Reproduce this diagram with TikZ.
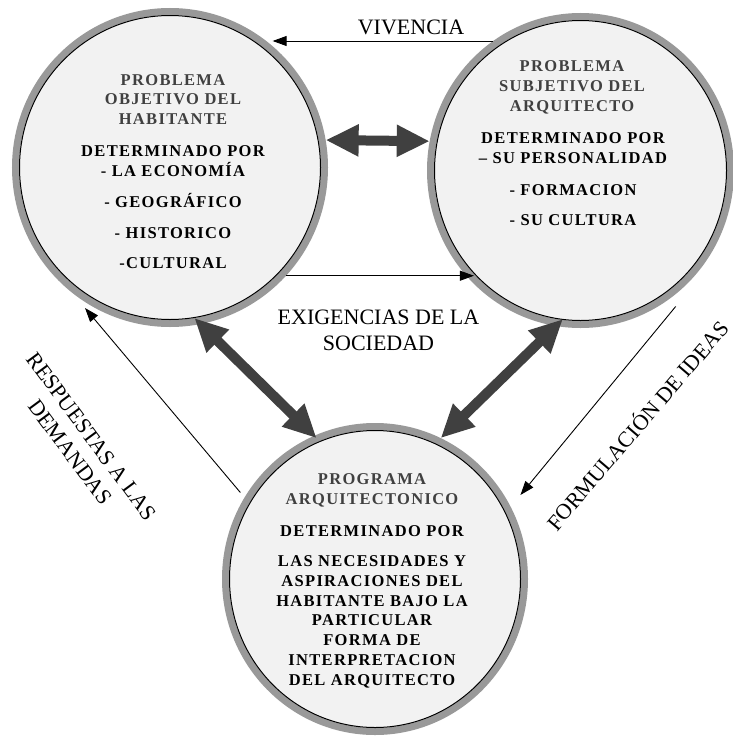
\documentclass[tikz,border=0pt]{standalone}
\usepackage{fontspec}
\setmainfont{Liberation Serif}
\newfontfamily\bubblefont[LetterSpace=8]{Liberation Serif Bold}
\usepackage{tikz}
\usetikzlibrary{arrows.meta,calc,shapes.geometric}

\begin{document}
\begin{tikzpicture}[
    x=1pt, y=1pt,
    % Grey-rimmed bubbles and their texts
    bubble/.style={ellipse, draw=black!40, line width=7pt, fill=gray!10, inner sep=0pt},
    titletext/.style={align=center, text=black!75, font=\bubblefont\fontsize{16.5}{19.8}\selectfont},
    bodytext/.style={align=center, text=black, font=\bubblefont\fontsize{16.5}{19.8}\selectfont},
    lbl/.style={align=center, inner sep=0pt, font=\fontsize{22}{26.5}\selectfont},
    bigarrow/.style={{Triangle[length=33pt,width=30pt]}-{Triangle[length=33pt,width=30pt]}, line width=10pt, draw=black!75},
    thinarrow/.style={-{Triangle[length=14pt,width=10pt]}, line width=0.9pt}
]
    \useasboundingbox (0,0) rectangle (733,-736);
    \clip (0,0) rectangle (733,-736);
    \fill[white] (0,0) rectangle (733,-736);

    % --- Bubbles ---
    \node[bubble, minimum width=309pt, minimum height=312pt] (A) at (170,-167.5) {};
    \node[bubble, minimum width=300pt, minimum height=308pt] (B) at (580.5,-170.5) {};
    \node[bubble, minimum width=299pt, minimum height=305pt] (C) at (375,-579) {};
    \foreach \n/\rx/\ry in {A/150.5/152, B/146/150, C/145.5/148.5}
        \draw[line width=1pt] (\n.center) ellipse[x radius=\rx, y radius=\ry];

    % --- Texts in the bubbles ---
    \node[titletext] (Atitle) at (173,-99.5) {PROBLEMA\\OBJETIVO DEL\\HABITANTE};
    \node[bodytext] (Abody) at (173,-207.5)
        {DETERMINADO POR\\- LA ECONOMÍA\\[11pt]- GEOGRÁFICO\\[11pt]- HISTORICO\\[11pt]-CULTURAL};
    \node[titletext] (Btitle) at (572,-87.5) {PROBLEMA\\SUBJETIVO DEL\\ARQUITECTO};
    \node[bodytext] (Bbody) at (573,-179)
        {DETERMINADO POR\\– SU PERSONALIDAD\\[12pt]- FORMACION\\[10.5pt]- SU CULTURA};
    \node[titletext] (Ctitle) at (372,-490) {PROGRAMA\\ARQUITECTONICO};
    \node[bodytext] (Cbody) at (372,-606.9)
        {DETERMINADO POR\\[10pt]LAS NECESIDADES Y\\ASPIRACIONES DEL\\HABITANTE BAJO LA\\PARTICULAR\\FORMA DE\\INTERPRETACION\\DEL ARQUITECTO};

    % --- Labels ---
    \node[lbl] (viv) at (411,-27) {VIVENCIA};
    \node[lbl] (exig) at (378.5,-330.3) {EXIGENCIAS DE LA\\SOCIEDAD};
    \node[lbl, rotate=-53.5] (resp) at (80.8,-444.3) {RESPUESTAS A LAS\\DEMANDAS};
    \node[lbl, rotate=49.5, text height=14.5pt, text depth=0pt] (form) at (638,-426) {FORMULACIÓN DE IDEAS};

    % --- Connectors ---
    \draw[bigarrow] (A.10) -- (B.169);
    \draw[bigarrow, shorten <=-8.5pt, shorten >=-3.3pt] (A.-79) -- (C.113);
    \draw[bigarrow, shorten <=-9.8pt] (B.-99) -- (C.65);
    \draw[thinarrow, shorten >=7pt] (B.124) -- (A.53 |- B.124);
    \draw[thinarrow, shorten >=-7pt] (A.-43) -- (A.-43 -| B.-137);
    \draw[thinarrow, shorten <=6.5pt, shorten >=20pt] (C.148) -- (A.-128);
    \draw[thinarrow, shorten >=15.4pt] ($(B.center)!1.063!(B.-55)$) -- (C.28);

\end{tikzpicture}
\end{document}
